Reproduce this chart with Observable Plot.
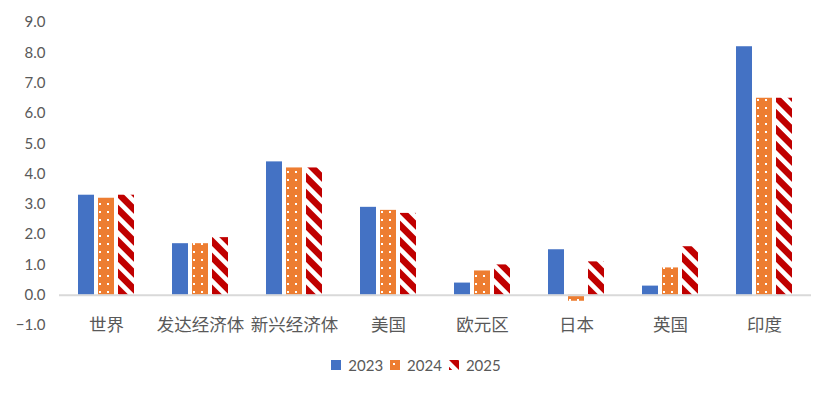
<!DOCTYPE html>
<html><head><meta charset="utf-8">
<script src="https://cdn.jsdelivr.net/npm/d3@7"></script>
<script src="https://cdn.jsdelivr.net/npm/@observablehq/plot@0.6"></script>
<style>
body{margin:0;background:#fff;}
#chart{width:832px;height:393px;position:relative;overflow:hidden;}
.legend{display:flex;justify-content:center;align-items:center;height:50px;font-family:Lato,"Noto Sans",sans-serif;font-size:15px;color:#595959;margin-top:0;}
.legend .item{display:flex;align-items:center;margin:0 3.5px;}
.legend svg{margin-right:7px;display:block;}
</style></head><body>
<svg width="0" height="0" style="position:absolute">
<defs>
<pattern id="pat2024" patternUnits="userSpaceOnUse" width="8" height="8"><rect width="8" height="8" fill="#ED7D31"/><rect x="3" y="3" width="2" height="2" fill="#fff"/></pattern>
<pattern id="pat2025" patternUnits="userSpaceOnUse" width="11.3" height="11.3" patternTransform="rotate(-45)"><rect width="11.3" height="11.3" fill="#fff"/><rect width="6.6" height="11.3" fill="#C00000"/></pattern>
</defs></svg>
<div id="chart"></div>
<script>
const categories = ["世界","发达经济体","新兴经济体","美国","欧元区","日本","英国","印度"];
const years = ["2023","2024","2025"];
const v2023 = [3.3, 1.7, 4.4, 2.9, 0.4, 1.5, 0.3, 8.2];
const v2024 = [3.2, 1.7, 4.2, 2.8, 0.8, -0.2, 0.9, 6.5];
const v2025 = [3.3, 1.9, 4.2, 2.7, 1.0, 1.1, 1.6, 6.5];
const yTicks = [-1, 0, 1, 2, 3, 4, 5, 6, 7, 8, 9];
const fills = {"2023": "#4472C4", "2024": "url(#pat2024)", "2025": "url(#pat2025)"};

const series = {"2023": v2023, "2024": v2024, "2025": v2025};
const rows = [];
years.forEach(y => categories.forEach((c, i) => rows.push({cat: c, year: y, value: series[y][i]})));

const sans = 'Lato, "Noto Sans", sans-serif';
const cjk = '"Noto Sans CJK SC", sans-serif';

const plot = Plot.plot({
  width: 832, height: 340,
  marginLeft: 59, marginRight: 21, marginTop: 22, marginBottom: 15,
  style: {fontFamily: sans, fontSize: "15px", color: "#595959", background: "#fff", overflow: "visible"},
  fx: {domain: categories, paddingInner: 0, paddingOuter: 0, label: null},
  x: {domain: years, paddingInner: 0.2, paddingOuter: 0.95, axis: null},
  y: {domain: [-1, 9], label: null},
  marks: [
    ...years.map(yr => Plot.barY(rows.filter(d => d.year === yr), {fx: "cat", x: "year", y: "value", fill: fills[yr]})),
    Plot.ruleY([0], {stroke: "#d9d9d9", strokeWidth: 2}),
    Plot.axisY({ticks: yTicks, tickSize: 0, tickPadding: 14, tickFormat: d3.format(".1f"), label: null, fill: "#595959"}),
    Plot.axisFx({anchor: "bottom", tickSize: 0, label: null, dy: -16, fontSize: 17.5, fontFamily: cjk, fill: "#595959"})
  ]
});
const chart = document.getElementById("chart");
chart.appendChild(plot);

const legend = document.createElement("div");
legend.className = "legend";
years.forEach(yr => {
  const item = document.createElement("div");
  item.className = "item";
  item.innerHTML = `<svg width="10" height="10"><rect width="10" height="10" fill="${fills[yr]}"/></svg><span>${yr}</span>`;
  legend.appendChild(item);
});
chart.appendChild(legend);
</script>
</body></html>
